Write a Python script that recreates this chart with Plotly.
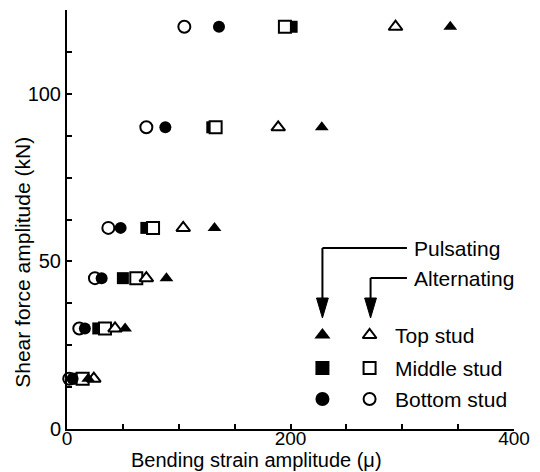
import plotly.graph_objects as go

# Shear force levels (kN) and bending strain amplitudes (micro-strain)
force = [15, 30, 45, 60, 90, 120]

top_pulsating = [19, 52, 89, 132, 228, 343]
top_alternating = [24, 43, 71, 104, 189, 294]
middle_pulsating = [10, 28, 50, 71, 130, 201]
middle_alternating = [14, 34, 62, 77, 133, 195]
bottom_pulsating = [5, 16, 31, 48, 88, 136]
bottom_alternating = [2, 11, 25, 37, 71, 105]

x_tick_vals = [0, 50, 100, 150, 200, 250, 300, 350, 400]
x_tick_text = ["0", "", "", "", "200", "", "", "", "400"]
y_tick_vals = [0, 12.5, 25, 37.5, 50, 62.5, 75, 87.5, 100, 112.5, 125]
y_tick_text = ["0", "", "", "", "50", "", "", "", "100", "", ""]

FONT = "Liberation Sans, Arial, sans-serif"
MS = 12

# plot area in pixels
L, R, T, B = 67, 522, 10, 429


def px(x):
    return (x - L) / (R - L)


def py(y):
    return (B - y) / (B - T)


fig = go.Figure()


def add_series(x, symbol, filled, size=MS, xaxis="x", yaxis="y", y=None):
    fig.add_trace(go.Scatter(
        x=x, y=y if y is not None else force, mode="markers",
        xaxis=xaxis, yaxis=yaxis, showlegend=False, cliponaxis=False,
        marker=dict(symbol=symbol, size=size,
                    color="black" if filled else "white",
                    line=dict(color="black", width=0 if filled else 2)),
    ))


add_series(middle_pulsating, "square", True)
add_series(middle_alternating, "square", False)
add_series(bottom_alternating, "circle", False)
add_series(bottom_pulsating, "circle", True)
add_series(top_alternating, "triangle-up", False)
add_series(top_pulsating, "triangle-up", True)

# Key drawn on a pixel-based overlay axis
key_rows = [335, 368, 399]
key_names = ["Top stud", "Middle stud", "Bottom stud"]
key_symbols = ["triangle-up", "square", "circle"]
for yy, name, sym in zip(key_rows, key_names, key_symbols):
    add_series([327], sym, True, size=14, xaxis="x2", yaxis="y2", y=[yy])
    add_series([375], sym, False, size=12, xaxis="x2", yaxis="y2", y=[yy])
    fig.add_annotation(x=px(399), y=py(yy), xref="paper", yref="paper",
                       text=name, showarrow=False, xanchor="left",
                       yanchor="middle",
                       font=dict(family=FONT, size=21, color="black"))

# Leader lines with arrowheads for the loading types
shapes = []
for x0, y0, label in [(327, 248, "Pulsating"), (376, 278, "Alternating")]:
    shapes.append(dict(type="line", xref="x2", yref="y2", x0=413, y0=y0,
                       x1=x0, y1=y0, line=dict(color="black", width=2)))
    shapes.append(dict(type="line", xref="x2", yref="y2", x0=x0, y0=y0,
                       x1=x0, y1=300, line=dict(color="black", width=2)))
    shapes.append(dict(type="path", xref="x2", yref="y2",
                       path=f"M {x0-6},{298} L {x0+6},{298} L {x0},{318} Z",
                       fillcolor="black", line=dict(color="black", width=1)))
    fig.add_annotation(x=px(418), y=py(y0), xref="paper", yref="paper",
                       text=label, showarrow=False, xanchor="left",
                       yanchor="middle",
                       font=dict(family=FONT, size=21, color="black"))

# Axis titles
fig.add_annotation(x=px(260), y=py(473), xref="paper", yref="paper",
                   text="Bending strain amplitude (\u03bc)", showarrow=False,
                   xanchor="center", yanchor="bottom",
                   font=dict(family=FONT, size=20, color="black"))
fig.add_annotation(x=px(21), y=py(262), xref="paper", yref="paper",
                   text="Shear force amplitude (kN)", showarrow=False,
                   textangle=-90, xanchor="center", yanchor="middle",
                   font=dict(family=FONT, size=21, color="black"))

axis_common = dict(showgrid=False, zeroline=False, ticks="inside", ticklen=5,
                   tickwidth=1.5, tickcolor="black", showline=True,
                   linecolor="black", linewidth=2)

fig.update_layout(
    width=540, height=472,
    margin=dict(l=L, r=540 - R, t=T, b=472 - B),
    paper_bgcolor="white", plot_bgcolor="white",
    shapes=shapes,
    xaxis=dict(range=[0, 400], tickvals=x_tick_vals, ticktext=x_tick_text,
               ticklabelstandoff=-9,
               tickfont=dict(family=FONT, size=19, color="black"),
               **axis_common),
    yaxis=dict(range=[0, 125], tickvals=y_tick_vals, ticktext=y_tick_text,
               tickfont=dict(family=FONT, size=20, color="black"),
               **axis_common),
    xaxis2=dict(range=[L, R], overlaying="x", visible=False, fixedrange=True),
    yaxis2=dict(range=[B, T], overlaying="y", visible=False, fixedrange=True),
)

fig.write_html("out.html")
